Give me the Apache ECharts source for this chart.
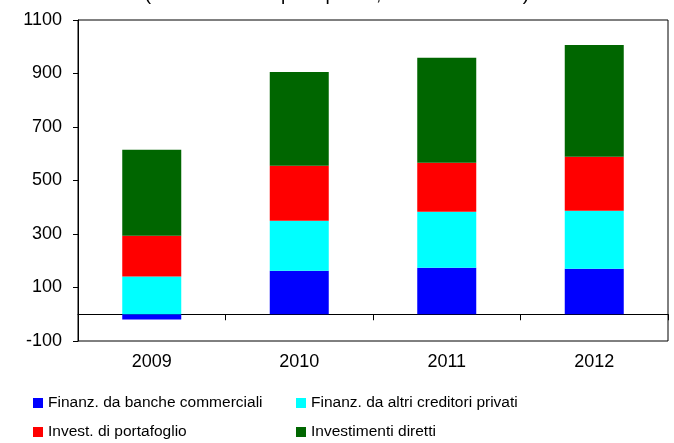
<!DOCTYPE html>
<html>
<head>
<meta charset="utf-8">
<script src="https://cdn.jsdelivr.net/npm/echarts@6/dist/echarts.min.js"></script>
<style>
  html, body { margin: 0; padding: 0; background: #fff; }
  #chart { width: 674px; height: 443px; }
</style>
</head>
<body>
<div id="chart"></div>
<script>
// anni
var anni = ["2009", "2010", "2011", "2012"];
// serie (miliardi di dollari)
var bancheCommerciali = [-20, 163, 174, 170];
var altriCreditori = [141, 187, 209, 217];
var investPortafoglio = [152, 205, 183, 202];
var investDiretti = [322, 351, 393, 418];
// asse y
var yMin = -100;
var yMax = 1100;
var yStep = 200;

var font = "Liberation Sans, Arial, sans-serif";

var chart = echarts.init(document.getElementById("chart"));

function serie(nome, colore, dati) {
  return {
    name: nome,
    type: "bar",
    stack: "tot",
    barWidth: "40%",
    itemStyle: { color: colore },
    data: dati,
  };
}

var legendaBase = {
  orient: "vertical",
  top: 395,
  height: 60,
  padding: 0,
  itemWidth: 10,
  itemHeight: 10,
  itemGap: 13,
  icon: "rect",
  textStyle: { fontFamily: font, fontSize: 15.5, color: "#000" },
};

var option = {
  backgroundColor: "#fff",
  animation: false,
  textStyle: { fontFamily: font },
  title: {
    // titolo tagliato in alto come nell'originale
    text: "(flussi netti di capitali privati, miliardi di dollari)",
    left: "center",
    top: -20,
    textStyle: { fontFamily: font, fontSize: 19, fontWeight: "normal", color: "#000" },
  },
  grid: {
    left: 78,
    right: 6,
    top: 20,
    bottom: 102,
    show: true,
    borderColor: "#000",
    borderWidth: 1,
    backgroundColor: "transparent",
  },
  legend: [
    Object.assign({}, legendaBase, {
      left: 33,
      data: ["Finanz. da banche commerciali", "Invest. di portafoglio"],
    }),
    Object.assign({}, legendaBase, {
      left: 296,
      data: ["Finanz. da altri creditori privati", "Investimenti diretti"],
    }),
  ],
  xAxis: [
    {
      // asse sullo zero con i tick
      type: "category",
      data: anni,
      axisLine: { onZero: true, lineStyle: { color: "#000", width: 1 } },
      axisTick: { show: true, length: 6, lineStyle: { color: "#000" } },
      axisLabel: { show: false },
      splitLine: { show: false },
    },
    {
      // etichette in basso
      type: "category",
      position: "bottom",
      data: anni,
      axisLine: { show: false, onZero: false },
      axisTick: { show: false },
      axisLabel: { color: "#000", fontSize: 18, fontFamily: font, margin: 12 },
      splitLine: { show: false },
    },
  ],
  yAxis: {
    type: "value",
    min: yMin,
    max: yMax,
    interval: yStep,
    axisLine: { show: true, lineStyle: { color: "#000" } },
    axisTick: { show: true, length: 5, lineStyle: { color: "#000" } },
    axisLabel: {
      color: "#000",
      fontSize: 18,
      fontFamily: font,
      margin: 16,
      formatter: function (v) {
        return String(v);
      },
    },
    splitLine: { show: false },
  },
  series: [
    serie("Finanz. da banche commerciali", "#0000ff", bancheCommerciali),
    serie("Finanz. da altri creditori privati", "#00ffff", altriCreditori),
    serie("Invest. di portafoglio", "#ff0000", investPortafoglio),
    serie("Investimenti diretti", "#006600", investDiretti),
  ],
};

chart.setOption(option);
</script>
</body>
</html>
